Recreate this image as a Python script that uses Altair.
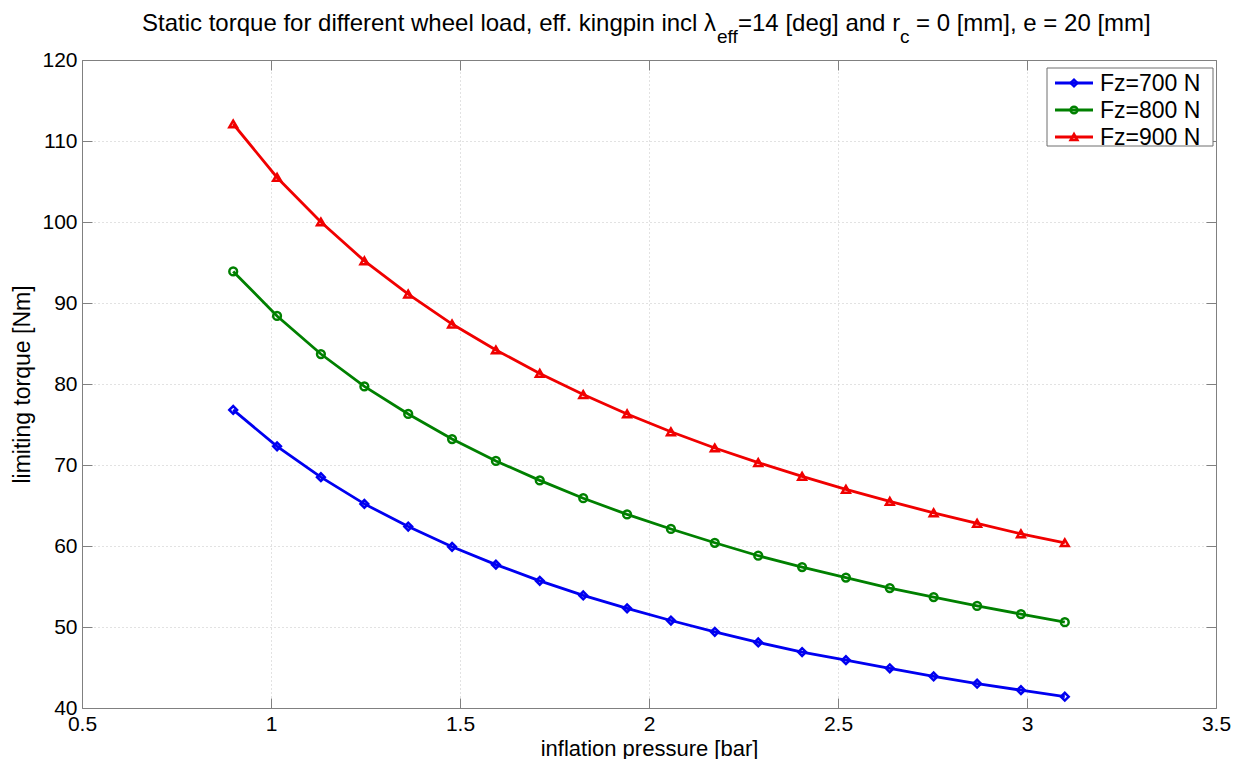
import altair as alt
import pandas as pd

# ---- data ----
pressure = [0.9, 1.016, 1.132, 1.247, 1.363, 1.479, 1.595, 1.711, 1.826, 1.942,
            2.058, 2.174, 2.289, 2.405, 2.521, 2.637, 2.753, 2.868, 2.984, 3.1]
torque_700 = [76.8, 72.3, 68.5, 65.2, 62.4, 59.9, 57.7, 55.7, 53.9, 52.3,
              50.8, 49.4, 48.1, 46.9, 45.9, 44.9, 43.9, 43.0, 42.2, 41.4]
torque_800 = [93.9, 88.4, 83.7, 79.7, 76.3, 73.2, 70.5, 68.1, 65.9, 63.9,
              62.1, 60.4, 58.8, 57.4, 56.1, 54.8, 53.7, 52.6, 51.6, 50.6]
torque_900 = [112.1, 105.5, 100.0, 95.2, 91.1, 87.4, 84.2, 81.3, 78.7, 76.3,
              74.1, 72.1, 70.3, 68.6, 67.0, 65.5, 64.1, 62.8, 61.5, 60.4]
series_labels = ["Fz=700 N", "Fz=800 N", "Fz=900 N"]
series_colors = ["#0000f0", "#008000", "#f00000"]
series_shapes = ["diamond", "circle", "triangle-up"]
x_ticks = [0.5, 1, 1.5, 2, 2.5, 3, 3.5]
y_ticks = [40, 50, 60, 70, 80, 90, 100, 110, 120]
title_parts = ["Static torque for different wheel load, eff. kingpin incl λ",
               "eff", "=14 [deg] and r", "c", "= 0 [mm], e = 20 [mm]"]
x_title = "inflation pressure [bar]"
y_title = "limiting torque [Nm]"

rows = []
for lab, vals in zip(series_labels, [torque_700, torque_800, torque_900]):
    for p, v in zip(pressure, vals):
        rows.append({"p": p, "t": v, "series": lab})
df = pd.DataFrame(rows)

FONT = "Liberation Sans"
W, H = 1134, 648
GRID = "#c4c4c4"
AX = "#808080"

xs = alt.Scale(domain=[0.5, 3.5], nice=False, zero=False)
ys = alt.Scale(domain=[40, 120], nice=False, zero=False)
cs = alt.Scale(domain=series_labels, range=series_colors)
ss = alt.Scale(domain=series_labels, range=series_shapes)

main_x = alt.Axis(values=x_ticks, grid=True, gridColor=GRID, gridDash=[1, 3],
                  ticks=False, tickSize=0, domain=False, labelFont=FONT,
                  labelFontSize=21, labelColor="black", labelPadding=22,
                  labelBaseline="alphabetic", labelFlush=False, labelOverlap=False,
                  format="~g", title=x_title, titleFont=FONT, titleFontSize=22,
                  titleFontWeight="normal", titleColor="black", titleX=W / 2,
                  titleY=47, titleBaseline="alphabetic", titleAlign="center")
main_y = alt.Axis(values=y_ticks, grid=True, gridColor=GRID, gridDash=[1, 3],
                  ticks=False, tickSize=0, domain=False, labelFont=FONT,
                  labelFontSize=21, labelColor="black", labelPadding=5,
                  labelOverlap=False, format="d", title=y_title, titleFont=FONT,
                  titleFontSize=23, titleFontWeight="normal", titleColor="black",
                  titleAngle=270, titleX=-53, titleY=H / 2, titleAlign="center",
                  titleBaseline="alphabetic")


def tick_axis(orient, offset, vals):
    return alt.Axis(orient=orient, offset=offset, values=vals, labels=False,
                    grid=False, domain=True, domainColor=AX, tickColor=AX,
                    tickSize=10, tickWidth=1)


base = alt.Chart(df)
lines = base.mark_line(strokeWidth=2.8).encode(
    x=alt.X("p:Q", scale=xs, axis=main_x),
    y=alt.Y("t:Q", scale=ys, axis=main_y),
    color=alt.Color("series:N", scale=cs, legend=None),
)
points = base.mark_point(filled=False, strokeWidth=2.5, size=60, opacity=1).encode(
    x=alt.X("p:Q", scale=xs, axis=None),
    y=alt.Y("t:Q", scale=ys, axis=None),
    color=alt.Color("series:N", scale=cs, legend=None),
    shape=alt.Shape("series:N", scale=ss, legend=None),
)
ticks_a = base.mark_point(opacity=0).encode(
    x=alt.X("p:Q", scale=xs, title=None, axis=tick_axis("top", -H, x_ticks)),
    y=alt.Y("t:Q", scale=ys, title=None, axis=tick_axis("right", -W, y_ticks)),
)
ticks_b = base.mark_point(opacity=0).encode(
    x=alt.X("p:Q", scale=xs, title=None, axis=tick_axis("bottom", -H, x_ticks)),
    y=alt.Y("t:Q", scale=ys, title=None, axis=tick_axis("left", -W, y_ticks)),
)

# ---- title with subscripts ----
title_pos = [(60, -29, 24), (635, -17, 19), (656, -29, 24), (818, -17, 19), (834, -29, 24)]
title_layers = []
for txt, (tx, ty, fs) in zip(title_parts, title_pos):
    title_layers.append(
        alt.Chart(pd.DataFrame({"s": [txt]})).mark_text(
            align="left", baseline="alphabetic", font=FONT, fontSize=fs, color="black"
        ).encode(text="s:N", x=alt.value(tx), y=alt.value(ty))
    )

# ---- legend ----
one = pd.DataFrame({"s": [""]})
legend_layers = [
    alt.Chart(one).mark_rect(fill="white", stroke="#6e6e6e", strokeWidth=1).encode(
        x=alt.value(965), x2=alt.value(1131), y=alt.value(8), y2=alt.value(86))
]
for i, (lab, col, shp) in enumerate(zip(series_labels, series_colors, series_shapes)):
    ry = 23 + 27 * i
    d = pd.DataFrame({"s": [lab]})
    legend_layers.append(alt.Chart(d).mark_rule(color=col, strokeWidth=2.8).encode(
        x=alt.value(973), x2=alt.value(1011), y=alt.value(ry)))
    legend_layers.append(alt.Chart(d).mark_point(
        shape=shp, filled=False, color=col, strokeWidth=2.5, size=45, opacity=1).encode(
        x=alt.value(992), y=alt.value(ry)))
    legend_layers.append(alt.Chart(d).mark_text(
        align="left", baseline="middle", font=FONT, fontSize=23, color="black").encode(
        text="s:N", x=alt.value(1018), y=alt.value(ry + 1)))

chart = alt.layer(
    lines, points, ticks_a, ticks_b, *title_layers, *legend_layers
).resolve_axis(x="independent", y="independent").properties(
    width=W, height=H,
    autosize=alt.AutoSizeParams(type="none"),
    padding={"left": 74, "top": 52, "right": 18, "bottom": 51},
).configure_view(stroke="transparent")

chart.save("out.html", embed_options={"renderer": "svg", "actions": False})
